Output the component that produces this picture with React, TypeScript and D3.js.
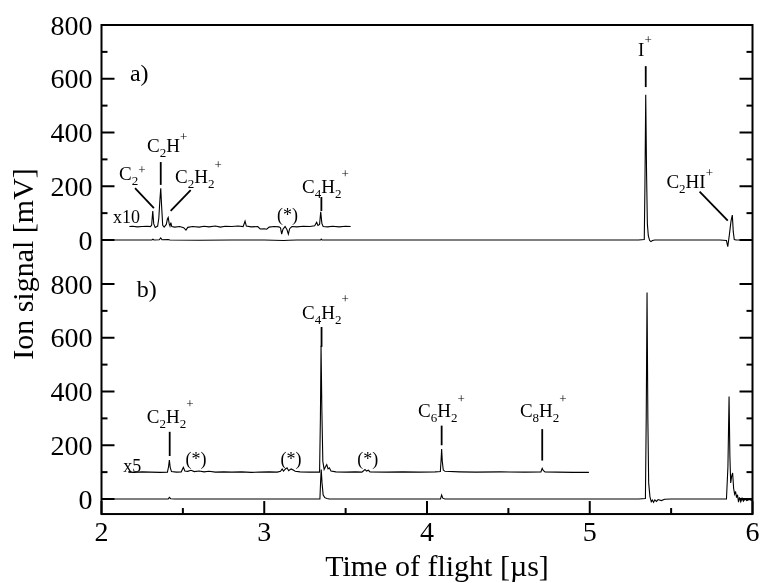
import React from "react";
import * as d3 from "d3";

// ---------- data ----------
const xTicksMajor = [2, 3, 4, 5, 6];
const xTicksMinor = [2.5, 3.5, 4.5, 5.5];
const yTicksMajor = [0, 200, 400, 600, 800];
const yTicksMinor = [100, 300, 500, 700];

// panel a) raw trace
const traceA: [number, number][] = [
  [2.0, 0], [2.2, 0], [2.31, 0], [2.316, 3], [2.322, 0], [2.355, 1], [2.364, 8], [2.372, 1], [2.41, 2], [2.42, 0],
  [2.6, -1], [2.8, 0], [3.0, 0], [3.12, -2], [3.15, -1], [3.2, 0], [3.346, 0], [3.35, 3], [3.355, 0],
  [3.7, 0], [4.0, 0], [4.5, 0], [5.0, 0], [5.3, 0], [5.335, 2], [5.339, 200], [5.344, 540], [5.349, 250],
  [5.354, 60], [5.36, 15], [5.368, -2], [5.376, -6], [5.385, -2], [5.4, 0], [5.6, 0], [5.8, 0], [5.84, -2],
  [5.848, -25], [5.858, 20], [5.868, 70], [5.876, 93], [5.882, 30], [5.888, 2], [5.9, 0], [6.0, 0],
];

// panel a) x10 trace (offset by 50)
const traceA10: [number, number][] = [
  [2.171, 50], [2.19, 51], [2.22, 49], [2.25, 50], [2.28, 51], [2.3, 50], [2.308, 55], [2.315, 108], [2.321, 60],
  [2.33, 47], [2.345, 52], [2.352, 80], [2.359, 150], [2.364, 192], [2.369, 130], [2.376, 55], [2.385, 48],
  [2.398, 58], [2.405, 78], [2.41, 84], [2.416, 60], [2.421, 52], [2.426, 65], [2.432, 50], [2.45, 48],
  [2.48, 50], [2.505, 46], [2.519, 37], [2.53, 47], [2.56, 50], [2.6, 48], [2.63, 51], [2.66, 49], [2.7, 52],
  [2.73, 48], [2.76, 51], [2.8, 50], [2.84, 52], [2.87, 50], [2.882, 70], [2.89, 52], [2.92, 49], [2.96, 50],
  [2.975, 41], [3.0, 42], [3.015, 40], [3.03, 48], [3.06, 50], [3.09, 49], [3.1, 45], [3.107, 22], [3.115, 40],
  [3.128, 50], [3.14, 38], [3.148, 22], [3.156, 42], [3.17, 50], [3.2, 49], [3.24, 51], [3.28, 50], [3.31, 53],
  [3.322, 66], [3.33, 54], [3.34, 58], [3.347, 105], [3.354, 62], [3.362, 50], [3.39, 49], [3.42, 51],
  [3.46, 49], [3.5, 51], [3.531, 50],
];

// panel b) raw trace
const traceB: [number, number][] = [
  [2.0, 0], [2.2, 0], [2.41, 0], [2.417, 6], [2.425, 1], [2.45, 0], [2.8, 0], [3.1, 0], [3.342, 0],
  [3.346, 60], [3.35, 110], [3.355, 60], [3.362, 15], [3.372, 5], [3.385, 2], [3.4, 0], [3.7, 0],
  [4.083, 0], [4.09, 15], [4.097, 3], [4.11, 0], [4.5, 0], [4.71, 0], [5.0, 0], [5.3, 0], [5.342, 2],
  [5.347, 300], [5.352, 768], [5.357, 300], [5.362, 60], [5.37, 8], [5.378, -10], [5.385, -4], [5.392, -12],
  [5.4, -3], [5.41, -9], [5.42, -2], [5.44, -6], [5.46, -1], [5.5, 0], [5.7, 0], [5.84, 0], [5.849, 120],
  [5.856, 381], [5.861, 160], [5.866, 60], [5.872, 85], [5.878, 97], [5.884, 40], [5.89, 18], [5.896, 28],
  [5.902, 5], [5.908, 16], [5.914, -12], [5.92, 6], [5.928, -10], [5.936, 3], [5.944, -8], [5.955, 0],
  [5.965, -6], [5.98, -2], [6.0, -6],
];

// panel b) x5 trace (offset by 100)
const traceB5: [number, number][] = [
  [2.165, 100], [2.2, 99], [2.25, 101], [2.3, 100], [2.36, 99], [2.405, 100], [2.412, 120], [2.417, 145],
  [2.422, 118], [2.43, 102], [2.46, 100], [2.49, 101], [2.503, 118], [2.512, 104], [2.53, 103], [2.55, 107],
  [2.57, 102], [2.6, 104], [2.63, 101], [2.66, 103], [2.7, 100], [2.75, 101], [2.8, 100], [2.86, 101],
  [2.92, 99], [2.97, 100], [3.03, 101], [3.08, 100], [3.1, 103], [3.11, 112], [3.118, 104], [3.128, 110],
  [3.14, 116], [3.15, 105], [3.165, 112], [3.178, 108], [3.19, 103], [3.22, 101], [3.28, 100], [3.34, 100],
  [3.345, 300], [3.349, 570], [3.354, 330], [3.36, 140], [3.368, 110], [3.378, 122], [3.384, 128],
  [3.392, 112], [3.4, 116], [3.41, 104], [3.44, 101], [3.5, 100], [3.56, 101], [3.6, 100], [3.612, 106],
  [3.619, 110], [3.628, 104], [3.64, 107], [3.65, 101], [3.75, 100], [3.85, 101], [3.95, 100], [4.05, 101],
  [4.082, 102], [4.087, 150], [4.09, 186], [4.094, 140], [4.1, 108], [4.11, 103], [4.2, 101], [4.3, 100],
  [4.45, 101], [4.6, 100], [4.7, 101], [4.704, 108], [4.708, 114], [4.714, 106], [4.725, 101], [4.8, 100],
  [4.9, 99], [4.995, 99],
];

type Label = { panel: "a" | "b"; text: string; t: number; v: number; size: number; sub: number; sup: number; anchor?: string };
const labels: Label[] = [
  { panel: "a", text: "a)", t: 2.175, v: 592, size: 24, sub: 0, sup: 0 },
  { panel: "a", text: "x10", t: 2.071, v: 63, size: 18, sub: 0, sup: 0 },
  { panel: "a", text: "C_{2}^{+}", t: 2.108, v: 223, size: 19, sub: 13, sup: -6 },
  { panel: "a", text: "C_{2}H^{+}", t: 2.28, v: 327, size: 19, sub: 13, sup: -11 },
  { panel: "a", text: "C_{2}H_{2}^{+}", t: 2.452, v: 212, size: 19, sub: 13, sup: -14 },
  { panel: "a", text: "(*)", t: 3.143, v: 71, size: 18, sub: 0, sup: 0, anchor: "middle" },
  { panel: "a", text: "C_{4}H_{2}^{+}", t: 3.232, v: 175, size: 19, sub: 13, sup: -15 },
  { panel: "a", text: "I^{+}", t: 5.297, v: 685, size: 19, sub: 13, sup: -12 },
  { panel: "a", text: "C_{2}HI^{+}", t: 5.471, v: 193, size: 19, sub: 13, sup: -11 },
  { panel: "b", text: "b)", t: 2.216, v: 753, size: 24, sub: 0, sup: 0 },
  { panel: "b", text: "x5", t: 2.134, v: 102, size: 18, sub: 0, sup: 0 },
  { panel: "b", text: "C_{2}H_{2}^{+}", t: 2.278, v: 283, size: 19, sub: 13, sup: -15 },
  { panel: "b", text: "(*)", t: 2.581, v: 127, size: 18, sub: 0, sup: 0, anchor: "middle" },
  { panel: "b", text: "(*)", t: 3.164, v: 127, size: 18, sub: 0, sup: 0, anchor: "middle" },
  { panel: "b", text: "(*)", t: 3.636, v: 127, size: 18, sub: 0, sup: 0, anchor: "middle" },
  { panel: "b", text: "C_{4}H_{2}^{+}", t: 3.232, v: 670, size: 19, sub: 13, sup: -16 },
  { panel: "b", text: "C_{6}H_{2}^{+}", t: 3.945, v: 306, size: 19, sub: 13, sup: -14 },
  { panel: "b", text: "C_{8}H_{2}^{+}", t: 4.571, v: 306, size: 19, sub: 13, sup: -14 },
];

type Pointer = { panel: "a" | "b"; t1: number; v1: number; t2: number; v2: number };
const pointers: Pointer[] = [
  { panel: "a", t1: 2.206, v1: 193, t2: 2.322, v2: 119 },
  { panel: "a", t1: 2.364, v1: 290, t2: 2.364, v2: 205 },
  { panel: "a", t1: 2.548, v1: 186, t2: 2.425, v2: 108 },
  { panel: "a", t1: 3.351, v1: 160, t2: 3.351, v2: 108 },
  { panel: "a", t1: 5.344, v1: 647, t2: 5.344, v2: 569 },
  { panel: "a", t1: 5.675, v1: 180, t2: 5.848, v2: 72 },
  { panel: "b", t1: 2.419, v1: 250, t2: 2.419, v2: 160 },
  { panel: "b", t1: 3.352, v1: 640, t2: 3.352, v2: 566 },
  { panel: "b", t1: 4.09, v1: 273, t2: 4.09, v2: 200 },
  { panel: "b", t1: 4.708, v1: 260, t2: 4.708, v2: 143 },
];

// ---------- layout ----------
const W = 761;
const H = 583;
const FONT = "'Liberation Serif', 'Times New Roman', serif";
const x = d3.scaleLinear().domain([2, 6]).range([101.5, 752.5]);
const yA = d3.scaleLinear().domain([0, 800]).range([240, 25]);
const yB = d3.scaleLinear().domain([0, 800]).range([499, 284]);
const frameTop = yA(800);
const frameBottom = yB(-56);

function chem(str: string, size: number, subSize: number, sup: number) {
  const re = /([_^])\{([^}]*)\}|([^_^]+)/g;
  const out: React.ReactNode[] = [];
  let cur = 0;
  let m: RegExpExecArray | null;
  let i = 0;
  while ((m = re.exec(str)) !== null) {
    let target = 0;
    let fs = size;
    let txt = m[3];
    if (m[1] === "_") { target = 5; fs = subSize; txt = m[2]; }
    else if (m[1] === "^") { target = sup; fs = subSize; txt = m[2]; }
    const dy = target - cur;
    cur = target;
    out.push(<tspan key={i++} dy={dy} fontSize={fs}>{txt}</tspan>);
  }
  return out;
}

export default function App() {
  const line = (y: d3.ScaleLinear<number, number>) =>
    d3.line<[number, number]>().x((d) => x(d[0])).y((d) => y(d[1]));
  const lineA = line(yA);
  const lineB = line(yB);
  const ys = { a: yA, b: yB };

  const yTickEls: React.ReactNode[] = [];
  [yA, yB].forEach((ys_, pi) => {
    yTicksMajor.forEach((v) => {
      yTickEls.push(
        <g key={`M${pi}-${v}`}>
          <line x1={x(2)} x2={x(2) + 13} y1={ys_(v)} y2={ys_(v)} stroke="#000" strokeWidth={2} />
          <line x1={x(6)} x2={x(6) - 13} y1={ys_(v)} y2={ys_(v)} stroke="#000" strokeWidth={2} />
          <text x={x(2) - 9} y={ys_(v) + 9.5} textAnchor="end" fontSize={28} fontFamily={FONT}>{v}</text>
        </g>
      );
    });
    yTicksMinor.forEach((v) => {
      yTickEls.push(
        <g key={`m${pi}-${v}`}>
          <line x1={x(2)} x2={x(2) + 6} y1={ys_(v)} y2={ys_(v)} stroke="#000" strokeWidth={2} />
          <line x1={x(6)} x2={x(6) - 6} y1={ys_(v)} y2={ys_(v)} stroke="#000" strokeWidth={2} />
        </g>
      );
    });
  });

  return (
    <svg width={W} height={H} style={{ position: "absolute", left: 0, top: 0, background: "#fff", filter: "grayscale(100%)" }}>
      <rect x={0} y={0} width={W} height={H} fill="#fff" />
      {/* traces */}
      <path d={lineA(traceA) || ""} fill="none" stroke="#000" strokeWidth={1.1} />
      <path d={lineA(traceA10) || ""} fill="none" stroke="#000" strokeWidth={1.1} />
      <path d={lineB(traceB) || ""} fill="none" stroke="#000" strokeWidth={1.1} />
      <path d={lineB(traceB5) || ""} fill="none" stroke="#000" strokeWidth={1.1} />

      {/* frame */}
      <rect x={x(2)} y={frameTop} width={x(6) - x(2)} height={frameBottom - frameTop} fill="none" stroke="#000" strokeWidth={2} />
      {yTickEls}
      {xTicksMajor.map((t) => (
        <g key={`x${t}`}>
          <line x1={x(t)} x2={x(t)} y1={frameBottom} y2={frameBottom - 13} stroke="#000" strokeWidth={2} />
          <text x={x(t)} y={541} textAnchor="middle" fontSize={28} fontFamily={FONT}>{t}</text>
        </g>
      ))}
      {xTicksMinor.map((t) => (
        <line key={`xm${t}`} x1={x(t)} x2={x(t)} y1={frameBottom} y2={frameBottom - 6} stroke="#000" strokeWidth={2} />
      ))}

      {/* annotations */}
      {pointers.map((p, i) => (
        <line key={`p${i}`} x1={x(p.t1)} y1={ys[p.panel](p.v1)} x2={x(p.t2)} y2={ys[p.panel](p.v2)} stroke="#000" strokeWidth={1.8} />
      ))}
      {labels.map((l, i) => (
        <text key={`l${i}`} x={x(l.t)} y={ys[l.panel](l.v)} fontSize={l.size} fontFamily={FONT} fill="#000" textAnchor={l.anchor || "start"}>
          {l.sub ? chem(l.text, l.size, l.sub, l.sup) : l.text}
        </text>
      ))}

      {/* axis titles */}
      <text x={437} y={576} textAnchor="middle" fontSize={30} fontFamily={FONT}>Time of flight [µs]</text>
      <text transform="translate(33,264) rotate(-90)" textAnchor="middle" fontSize={30} fontFamily={FONT}>Ion signal [mV]</text>
    </svg>
  );
}
